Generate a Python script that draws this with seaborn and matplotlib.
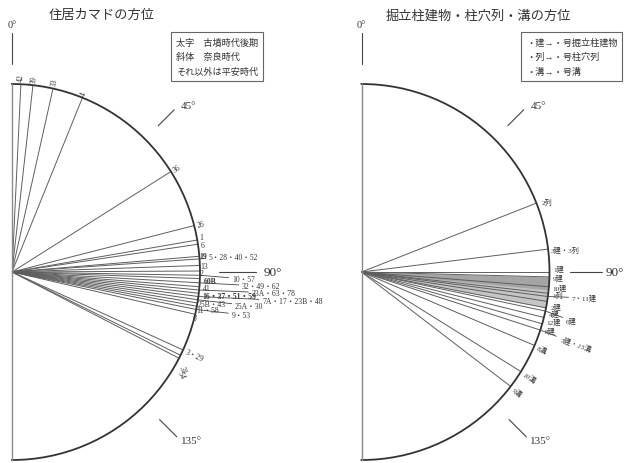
import numpy as np
import pandas as pd
import matplotlib
matplotlib.use("Agg")
import matplotlib.pyplot as plt
import seaborn as sns

# kamado (hearth) orientation of each house, degrees clockwise from north
kamado_labels = ["42", "39", "33", "4", "36", "26", "1", "6", "19", "5・28・40・52",
                 "13", "2", "10・57", "60B", "32・49・62", "41", "23A・63・78",
                 "16・37・51・59", "7A・17・23B・48", "25A・30", "25B・43", "11・58",
                 "9・53", "8", "3・29", "31", "54"]
kamado_deg = [2.7, 6.4, 12.6, 22.0, 57.7, 75.7, 80.2, 81.5, 85.2, 86.0,
              88.0, 89.7, 91.0, 92.0, 93.3, 94.5, 95.5,
              96.5, 97.5, 98.5, 99.5, 100.5,
              101.5, 103.0, 114.5, 116.3, 117.3]
kamado_period = ["heian", "heian", "heian", "heian", "heian", "heian", "heian", "heian", "kofun", "heian",
                 "heian", "heian", "heian", "kofun", "heian", "heian", "heian",
                 "kofun", "heian", "heian", "heian", "heian",
                 "heian", "nara", "heian", "nara", "nara"]

# pillar buildings / pit rows / ditches
struct_labels = ["2列", "3建・3列", "1建", "9建", "10建", "1列", "7・11建", "2建", "4建",
                 "6建", "12建", "8建", "5建・15溝", "8溝", "10溝", "9溝"]
struct_deg = [68.5, 83.0, 90.0, 91.5, 94.5, 96.5, 97.5, 99.0, 101.0,
              102.0, 104.0, 106.0, 108.0, 113.0, 122.0, 127.5]
struct_kind = ["row", "both", "bldg", "bldg", "bldg", "row", "bldg", "bldg", "bldg",
               "bldg", "bldg", "bldg", "ditch", "ditch", "ditch", "ditch"]
shade_deg = [(91.5, 101.0), (91.5, 95.5)]

# label placement (layout only): where the text sits, (theta deg, r, rotation)
kamado_spot = {"1": (79.3, 1.015, 0), "6": (81.7, 1.012, 0),
               "19": (85.2, 1.0, 0), "13": (88.2, 1.0, 0), "2": (90.3, 1.0, 0),
               "60B": (92.7, 1.02, 0), "41": (94.9, 1.02, 0), "16・37・51・59": (97.1, 1.02, 0),
               "25B・43": (99.7, 1.0, 0), "11・58": (101.8, 1.0, 0), "8": (104.3, 0.99, 0),
               "31": (118.8, 1.026, -65), "54": (120.5, 1.037, -65)}
kamado_leader = {"5・28・40・52": (85.6, 1.05), "10・57": (91.8, 1.17),
                 "32・49・62": (93.5, 1.226), "23A・63・78": (95.0, 1.28),
                 "7A・17・23B・48": (96.6, 1.339), "25A・30": (98.6, 1.20),
                 "9・53": (101.0, 1.19)}
struct_spot = {"2列": (68.5, 1.03, 0), "3建・3列": (83.1, 1.015, 0),
               "1建": (89.0, 1.02, 0), "9建": (91.5, 1.02, 0), "10建": (94.5, 1.02, 0),
               "1列": (96.8, 1.02, 0), "2建": (100.3, 1.02, 0), "4建": (102.6, 1.02, 0),
               "12建": (105.0, 1.02, 0), "8建": (107.6, 1.02, 0)}
struct_leader = {"7・11建": (97.0, 1.127), "6建": (103.4, 1.118), "5建・15溝": (108.5, 1.118)}

sns.set_theme(style="white")
plt.rcParams["font.family"] = ["Liberation Serif", "Noto Sans CJK JP", "DejaVu Sans"]

fig = plt.figure(figsize=(6.24, 4.64), dpi=100)
W, H = 624, 464
R = 188


def make_ax(cx):
    # polar wedge (half circle) is centred in a square axes twice its width
    ax = fig.add_axes([(cx - R / 2) / W, 3 / H, 2 * R / W, 2 * R / H], projection="polar")
    ax.set_theta_zero_location("N")
    ax.set_theta_direction(-1)
    ax.set_thetamin(0)
    ax.set_thetamax(180)
    ax.set_ylim(0, 1)
    ax.grid(False)
    ax.set_xticks([])
    ax.set_yticks([])
    ax.spines["polar"].set_color("#333333")
    ax.spines["polar"].set_linewidth(1.3)
    for s in ("start", "end"):
        ax.spines[s].set_color("#8a8a8a")
        ax.spines[s].set_linewidth(1.0)
    ax.spines["inner"].set_visible(False)
    ax.set_facecolor("none")
    return ax


def draw_rays(ax, degs):
    df = pd.DataFrame({"theta": np.repeat(np.deg2rad(degs), 2),
                       "r": np.tile([0.0, 1.0], len(degs)),
                       "ray": np.repeat(np.arange(len(degs)), 2)})
    sns.lineplot(data=df, x="theta", y="r", units="ray", estimator=None, sort=False,
                 color="#5e5e5e", lw=0.7, ax=ax, legend=False)
    ax.set_xlabel("")
    ax.set_ylabel("")


def degree_marks(ax, r90):
    ax.plot([0, 0], [1.106, 1.27], color="#444", lw=0.8, clip_on=False)
    ax.text(0, 1.29, "0°", fontsize=7.5, ha="center", va="bottom", color="#333")
    for d, r1, r2, td, tr, txt in [(45, 1.10, 1.22, 45.5, 1.26, "45°"),
                                   (135, 1.11, 1.24, 135.0, 1.27, "135°")]:
        t = np.deg2rad(d)
        ax.plot([t, t], [r1, r2], color="#444", lw=0.8, clip_on=False)
        ax.text(np.deg2rad(td), tr, txt, fontsize=8, ha="left", va="center", color="#333")
    t = np.deg2rad(90)
    ax.plot([t, t], [r90[0], r90[1]], color="#444", lw=0.8, clip_on=False)
    ax.text(t, r90[2], "90°", fontsize=9.5, ha="left", va="center", color="#333")


def put_label(ax, deg, txt, spot, leader, style, weight, fs):
    t = np.deg2rad(deg)
    kw = dict(fontsize=fs, ha="left", va="center", color="#333", style=style,
              weight=weight, rotation_mode="anchor")
    if txt in leader:
        ld, lr = leader[txt]
        ax.annotate(txt, xy=(t, 1.0), xytext=(np.deg2rad(ld), lr),
                    rotation=(90 - ld) if ld > 105 else 0,
                    arrowprops=dict(arrowstyle="-", color="#444", lw=0.6,
                                    shrinkA=0, shrinkB=0), **kw)
    elif txt in spot:
        sd, sr, rot = spot[txt]
        ax.text(np.deg2rad(sd), sr, txt, rotation=rot, **kw)
    else:
        ax.text(t, 1.015, txt, rotation=90 - deg, **kw)


# left: kamado
ax1 = make_ax(12)
draw_rays(ax1, kamado_deg)
degree_marks(ax1, (1.10, 1.30, 1.34))
for d, lab, p in zip(kamado_deg, kamado_labels, kamado_period):
    put_label(ax1, d, lab, kamado_spot, kamado_leader,
              "italic" if p == "nara" else "normal",
              "bold" if p == "kofun" else "normal", 5.5)

# right: structures
ax2 = make_ax(361.5)
for a, b in shade_deg:
    th = np.deg2rad(np.linspace(a, b, 20))
    ax2.fill_between(th, 0, 1, color="#808080", alpha=0.45, lw=0)
draw_rays(ax2, struct_deg)
degree_marks(ax2, (1.11, 1.28, 1.30))
for d, lab, k in zip(struct_deg, struct_labels, struct_kind):
    put_label(ax2, d, lab, struct_spot, struct_leader,
              "italic" if k == "ditch" else "normal", "normal", 5.2)

fig.text(102 / W, 1 - 16 / H, "住居カマドの方位", fontsize=9.5, ha="center", va="center", color="#333")
fig.text(478 / W, 1 - 16 / H, "掘立柱建物・柱穴列・溝の方位", fontsize=9.5, ha="center", va="center", color="#333")

box = dict(boxstyle="square,pad=0.5", fc="white", ec="#666", lw=0.8)
fig.text(176 / W, 1 - 38 / H, "太字　古墳時代後期\n斜体　奈良時代\nそれ以外は平安時代",
         fontsize=6.6, ha="left", va="top", linespacing=1.85, color="#333", bbox=box)
fig.text(526 / W, 1 - 38 / H, "・建→・号掘立柱建物\n・列→・号柱穴列\n・溝→・号溝",
         fontsize=6.6, ha="left", va="top", linespacing=1.85, color="#333", bbox=box)

fig.savefig("out.png", dpi=100)
